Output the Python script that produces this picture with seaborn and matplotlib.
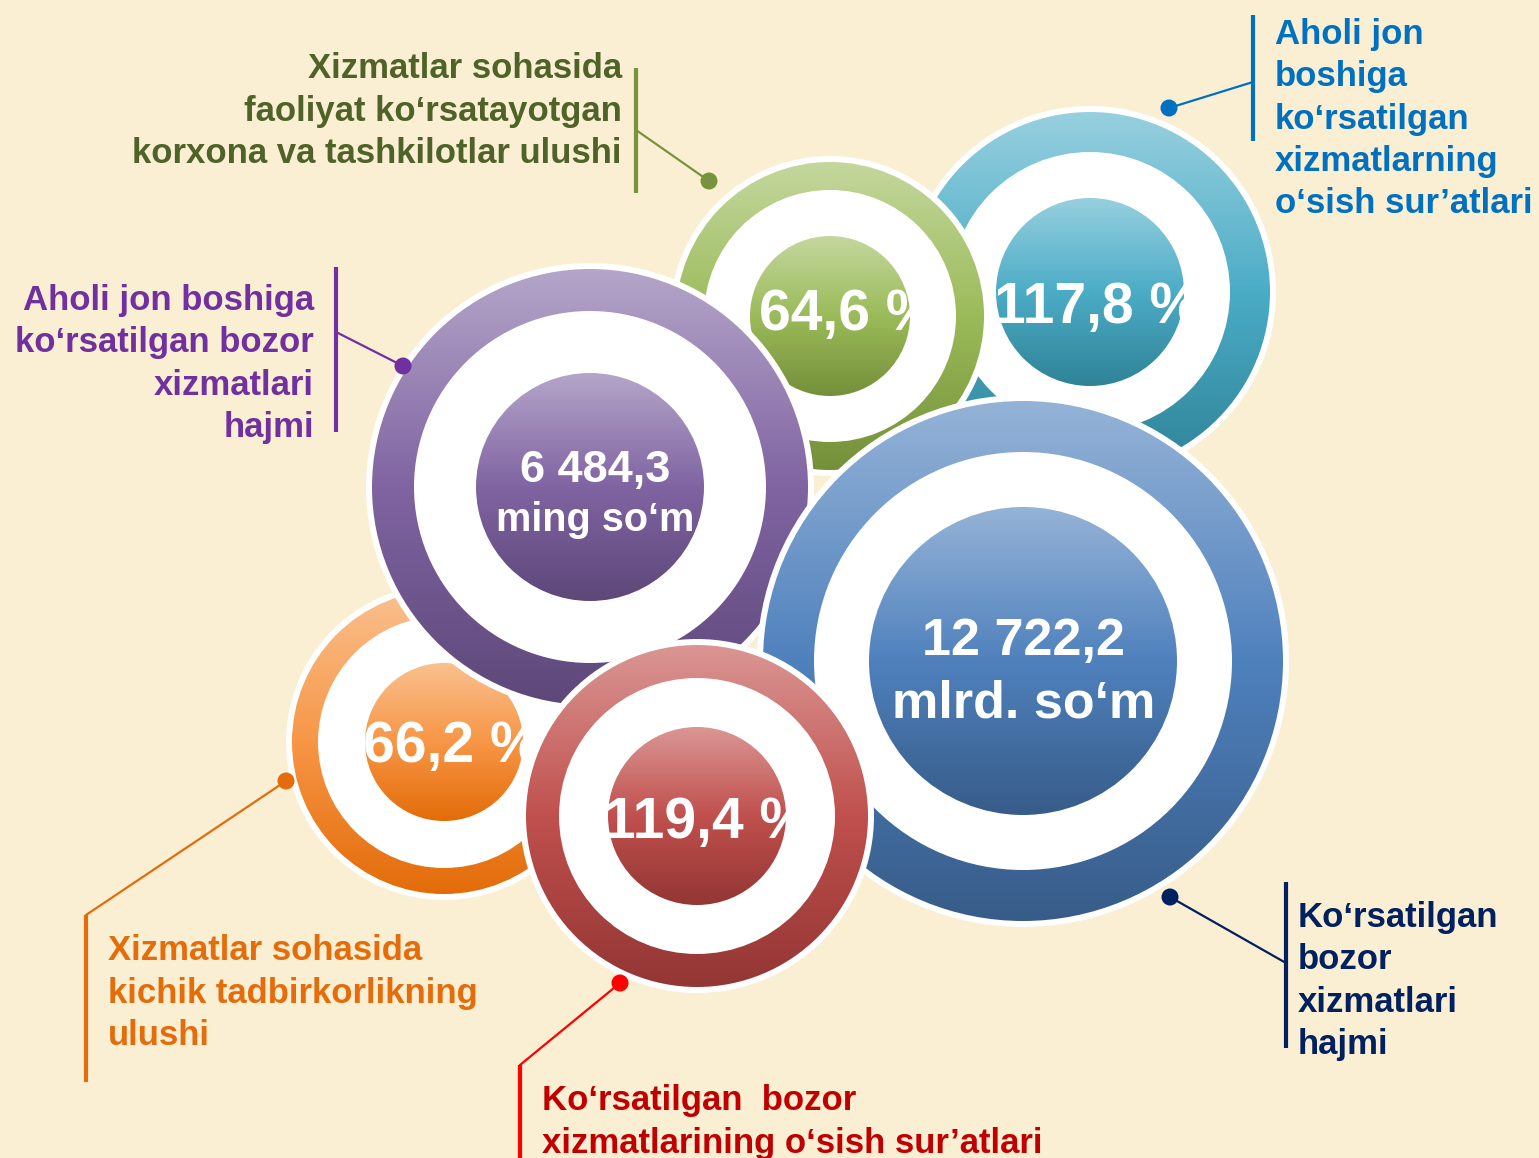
import numpy as np
import matplotlib
matplotlib.use("Agg")
import matplotlib.pyplot as plt
from matplotlib.patches import Circle
from matplotlib.colors import LinearSegmentedColormap
import seaborn as sns
import pandas as pd

# ---------------- data ----------------
values = ["64,6 %", "117,8 %", "6 484,3\nming so\u2018m", "12 722,2\nmlrd. so\u2018m", "66,2 %", "119,4 %"]
labels = [
    "Xizmatlar sohasida\nfaoliyat ko\u2018rsatayotgan\nkorxona va tashkilotlar ulushi",
    "Aholi jon\nboshiga\nko\u2018rsatilgan\nxizmatlarning\no\u2018sish sur\u2019atlari",
    "Aholi jon boshiga\nko\u2018rsatilgan bozor\nxizmatlari\nhajmi",
    "Ko\u2018rsatilgan\nbozor\nxizmatlari\nhajmi",
    "Xizmatlar sohasida\nkichik tadbirkorlikning\nulushi",
    "Ko\u2018rsatilgan  bozor\nxizmatlarining o\u2018sish sur\u2019atlari",
]
series = ["green", "teal", "purple", "blue", "orange", "red"]

# ---------------- layout / style ----------------
W, H = 1539, 1158
# circle geometry (pixels): cx, cy, outer R, white r, inner r
geom = {
    "teal":   (1090, 292, 180, 140, 94),
    "green":  (830, 316, 154, 126, 80),
    "orange": (444, 742, 152, 126, 79),
    "purple": (590, 487, 218, 176, 114),
    "blue":   (1023, 661, 260, 209, 154),
    "red":    (697, 816, 171, 138, 89),
}
grad = {
    "green":  ("#C4D79E", "#9BBB59", "#74903A"),
    "teal":   ("#97D0DF", "#4BACC6", "#2F8397"),
    "purple": ("#B4A5C9", "#8064A2", "#5D4879"),
    "blue":   ("#95B3D7", "#4F81BD", "#375C89"),
    "orange": ("#FAC08F", "#F79646", "#E36C09"),
    "red":    ("#DA9694", "#C0504D", "#933634"),
}
draw_order = ["teal", "green", "orange", "purple", "blue", "red"]
# center x, then per line (baseline y, fontsize)
value_pos = {
    "green":  (848, [(330, 41)]),
    "teal":   (1097, [(323, 41)]),
    "purple": (595, [(482, 32.5), (531, 28.5)]),
    "blue":   (1024, [(655, 37.5), (718, 37.5)]),
    "orange": (452, [(762, 41)]),
    "red":    (707, [(838, 41)]),
}
label_style = {
    # text x, text y(center), ha, text color, line color, vline x, vline y0, y1, joint y, dot x, dot y
    "green":  (622, 111, "right", "#4F6228", "#77933C", 636, 68, 193, 130, 709, 181),
    "teal":   (1275, 119, "left", "#0070C0", "#0070C0", 1253, 15, 141, 82, 1169, 108),
    "purple": (314, 364, "right", "#7030A0", "#7030A0", 336, 267, 432, 332, 403, 366),
    "blue":   (1298, 981, "left", "#002060", "#002060", 1286, 882, 1048, 963, 1170, 897),
    "orange": (108, 993, "left", "#E46C0A", "#E46C0A", 86, 915, 1082, 915, 286, 781),
    "red":    (542, 1122, "left", "#C00000", "#FF0000", 520, 1065, 1160, 1065, 620, 983),
}

sns.set_theme(style="white")
plt.rcParams["font.family"] = ["Liberation Sans", "DejaVu Sans"]
plt.rcParams["font.weight"] = "bold"

BG = "#FAEFD3"
fig = plt.figure(figsize=(W / 100, H / 100), dpi=100, facecolor=BG)
ax = fig.add_axes([0, 0, 1, 1])
ax.set_facecolor(BG)


def grad_disk(cx, cy, r, cols, z):
    cmap = LinearSegmentedColormap.from_list("g", cols)
    g = np.linspace(0, 1, 256).reshape(-1, 1)
    im = ax.imshow(g, cmap=cmap, extent=[cx - r, cx + r, cy + r, cy - r],
                   origin="upper", aspect="auto", interpolation="bilinear", zorder=z)
    clip = Circle((cx, cy), r, transform=ax.transData)
    im.set_clip_path(clip)


for k, name in enumerate(draw_order):
    cx, cy, R, rw, ri = geom[name]
    z = 10 + 10 * k
    ax.add_patch(Circle((cx, cy), R + 6, facecolor="white", edgecolor="none", zorder=z))
    grad_disk(cx, cy, R, grad[name], z + 1)
    ax.add_patch(Circle((cx, cy), rw, facecolor="white", edgecolor="none", zorder=z + 2))
    grad_disk(cx, cy, ri, grad[name], z + 3)
    i = series.index(name)
    tx, lines_fmt = value_pos[name]
    for line, (by, fs) in zip(values[i].split("\n"), lines_fmt):
        t = ax.text(tx, by, line, ha="center", va="baseline", color="white",
                    fontsize=fs, fontweight="bold", zorder=z + 4)
        t.set_clip_path(Circle((cx, cy), rw, transform=ax.transData))

# labels with leader lines
dots = []
for name in series:
    i = series.index(name)
    tx, ty, ha, tc, lc, vx, vy0, vy1, jy, dx, dy = label_style[name]
    ax.text(tx, ty, labels[i], ha=ha, va="center", color=tc, fontsize=25,
            fontweight="bold", linespacing=1.35, zorder=100)
    ax.plot([vx, vx], [vy0, vy1], color=lc, lw=3, solid_capstyle="butt", zorder=100)
    ax.plot([vx, dx], [jy, dy], color=lc, lw=1.6, zorder=100)
    dots.append({"x": dx, "y": dy, "s": name, "c": lc})

dots = pd.DataFrame(dots)
sns.scatterplot(data=dots, x="x", y="y", hue="s", palette=dict(zip(dots["s"], dots["c"])),
                s=150, edgecolor="none", legend=False, ax=ax, zorder=110)

ax.set_xlim(0, W)
ax.set_ylim(H, 0)
ax.axis("off")
fig.savefig("out.png", dpi=100, facecolor=fig.get_facecolor())
